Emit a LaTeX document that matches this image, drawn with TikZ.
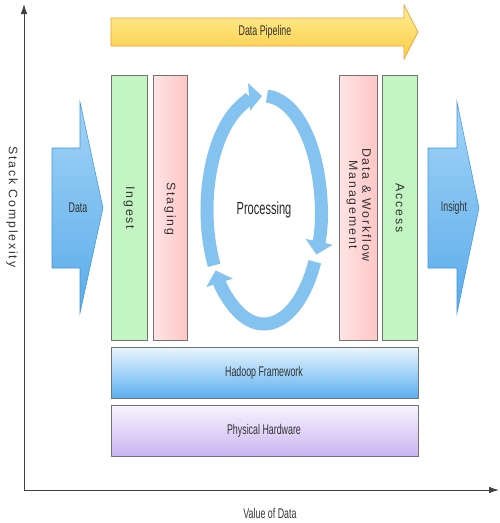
\documentclass[tikz,border=0pt]{standalone}
\usepackage{fontspec}
\setmainfont{Liberation Sans}[FakeStretch=0.63]
\newfontfamily\spacedfont{Liberation Sans}[LetterSpace=15]
\usetikzlibrary{arrows.meta}

\definecolor{PipeTop}{HTML}{FFEE96}
\definecolor{PipeBot}{HTML}{FBCD45}
\definecolor{PipeLine}{HTML}{F0A030}
\definecolor{GreenCol}{HTML}{C2F5C2}
\definecolor{PinkL}{HTML}{FFE4E4}
\definecolor{PinkR}{HTML}{FFC6C6}
\definecolor{SkyL}{HTML}{A2D4F6}
\definecolor{SkyD}{HTML}{5AACEA}
\definecolor{SkyLine}{HTML}{3E96DC}
\definecolor{RingBlue}{HTML}{84C3EF}
\definecolor{HadTop}{HTML}{EAF6FD}
\definecolor{HadBot}{HTML}{5CB0F0}
\definecolor{HwTop}{HTML}{F7F5FD}
\definecolor{HwBot}{HTML}{CBB4F2}
\definecolor{LabelGray}{HTML}{333333}

\begin{document}
\begin{tikzpicture}[x=0.2mm,y=-0.2mm,
        lbl/.style={text=LabelGray,font=\fontsize{8}{9}\selectfont},
        vlbl/.style={text=LabelGray,font=\spacedfont\fontsize{7}{7.5}\selectfont,rotate=-90,align=center},
        column/.style={draw=black!55,line width=0.4pt},
        greencol/.style={column,fill=GreenCol},
        pinkcol/.style={column,left color=PinkL,right color=PinkR},
        blockarrow/.style={draw=SkyLine,line width=0.3pt,top color=SkyL,bottom color=SkyD},
        ring/.style={line width=2.6mm,RingBlue,-{Triangle[width=5.4mm,length=2.6mm]}},
        axis/.style={black!75,line width=0.5pt}]
    \useasboundingbox (0,0) rectangle (500,523);

    % axes
    \coordinate (ytop) at (24,4);
    \coordinate (origin) at (24,490);
    \coordinate (xend) at (499,490);
    \draw[axis,{Latex[length=2mm,width=1.3mm]}-{Latex[length=2mm,width=1.3mm]}] (ytop) -- (origin) -- (xend);
    \node[vlbl] (ylabel) at (12,207) {Stack Complexity};
    \node[lbl] (xlabel) at (270,513) {Value of Data};

    % pipeline arrow
    \draw[draw=PipeLine,top color=PipeTop,bottom color=PipeBot] (111,18) -- (404,18) -- (404,5) -- (418,32)
                                                                -- (404,59) -- (404,46) -- (111,46) -- cycle;
    \node[lbl] (pipeline) at (265,32) {Data Pipeline};

    % in / out arrows
    \draw[blockarrow] (52,148) -- (80,148) -- (80,102) -- (103,208) -- (80,313) -- (80,268) -- (52,268) -- cycle;
    \node[lbl] (data) at (78,208) {Data};
    \draw[blockarrow] (428,148) -- (457,148) -- (457,102) -- (479,208) -- (457,313) -- (457,268) -- (428,268) -- cycle;
    \node[lbl] (insight) at (454,208) {Insight};

    % columns
    \draw[greencol] (111,75) rectangle (147,340);
    \node[vlbl] (ingest) at (129,208) {Ingest};
    \draw[pinkcol] (153,75) rectangle (187,340);
    \node[vlbl] (staging) at (170,209) {Staging};
    \draw[pinkcol] (339,75) rectangle (377,340);
    \node[vlbl] (dwm) at (359,205) {Data \& Workflow\\Management};
    \draw[greencol] (382,75) rectangle (417,340);
    \node[vlbl] (access) at (400,208) {Access};

    % processing cycle
    \node[font=\fontsize{10}{12}\selectfont,text=black!85] (proc) at (264,210) {Processing};
    \draw[ring] (proc.center) ++(151:57 and 114) arc[start angle=151,end angle=268,x radius=57,y radius=114];
    \draw[ring] (proc.center) ++(273:57 and 114) arc[start angle=273,end angle=383,x radius=57,y radius=114];
    \draw[ring] (proc.center) ++(27:57 and 114) arc[start angle=27,end angle=148,x radius=57,y radius=114];

    % layers
    \draw[draw=black!55,top color=HadTop,bottom color=HadBot] (111,347) rectangle (418,398);
    \node[lbl] (hadoop) at (264,373) {Hadoop Framework};
    \draw[draw=black!55,top color=HwTop,bottom color=HwBot] (111,405) rectangle (418,456);
    \node[lbl] (hardware) at (264,431) {Physical Hardware};
\end{tikzpicture}
\end{document}
